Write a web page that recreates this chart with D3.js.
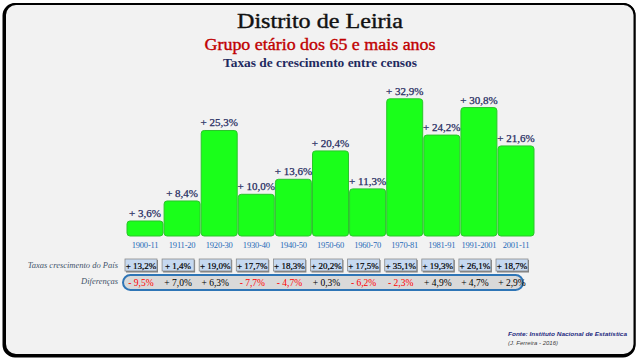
<!DOCTYPE html>
<html><head><meta charset="utf-8">
<script src="https://cdn.jsdelivr.net/npm/d3@7"></script>
<style>html,body{margin:0;padding:0;background:#fff;}svg{display:block;}</style>
</head><body>
<svg id="c" width="640" height="360"></svg>
<script>
const categories = ["1900-11","1911-20","1920-30","1930-40","1940-50","1950-60","1960-70","1970-81","1981-91","1991-2001","2001-11"];
const leiria = [3.6, 8.4, 25.3, 10.0, 13.6, 20.4, 11.3, 32.9, 24.2, 30.8, 21.6];
const pais = [13.2, 1.4, 19.0, 17.7, 18.3, 20.2, 17.5, 35.1, 19.3, 26.1, 18.7];
const diferencas = [-9.5, 7.0, 6.3, -7.7, -4.7, 0.3, -6.2, -2.3, 4.9, 4.7, 2.9];

const svg = d3.select("#c");
const serif = "'Liberation Serif','DejaVu Serif',serif";
const fmt = v => (v < 0 ? "- " : "+ ") + Math.abs(v).toFixed(1).replace(".", ",") + "%";

// frame
svg.append("rect").attr("x",4).attr("y",4.5).attr("width",630).attr("height",351.5).attr("rx",11)
  .attr("fill","none").attr("stroke","#000").attr("stroke-width",3);
svg.append("rect").attr("x",5).attr("y",4).attr("width",629.5).attr("height",351).attr("rx",11)
  .attr("fill","#f2f2f2").attr("stroke","#000").attr("stroke-width",2);

// titles
svg.append("text").attr("x",320).attr("y",27.5).attr("text-anchor","middle")
  .style("font-family",serif).style("font-size","21px").attr("fill","#111")
  .attr("stroke","#111").attr("stroke-width",0.4)
  .attr("textLength",166).attr("lengthAdjust","spacingAndGlyphs").text("Distrito de Leiria");
svg.append("text").attr("x",320).attr("y",50).attr("text-anchor","middle")
  .style("font-family",serif).style("font-size","16px").attr("fill","#c00000")
  .attr("stroke","#c00000").attr("stroke-width",0.35)
  .attr("textLength",231).attr("lengthAdjust","spacingAndGlyphs").text("Grupo etário dos 65 e mais anos");
svg.append("text").attr("x",320).attr("y",67).attr("text-anchor","middle")
  .style("font-family",serif).style("font-size","12.5px").style("font-weight","bold").attr("fill","#1f2a60")
  .attr("textLength",194).attr("lengthAdjust","spacingAndGlyphs").text("Taxas de crescimento entre censos");

const x = d3.scaleBand().domain(categories).range([127, 534]).paddingInner(0.03).paddingOuter(0);
const y = d3.scaleLinear().domain([0, 35]).range([236, 236 - 35*4.17]);

svg.append("g").selectAll("rect").data(leiria).join("rect")
  .attr("x",(d,i)=>x(categories[i])).attr("y",d=>y(d))
  .attr("width",x.bandwidth()).attr("height",d=>y(0)-y(d))
  .attr("rx",3).attr("fill","#1aff1a").attr("stroke","#2bc42b").attr("stroke-width",1);

svg.append("g").selectAll("text").data(leiria).join("text")
  .attr("x",(d,i)=>x(categories[i])+x.bandwidth()/2).attr("y",d=>y(d)-4)
  .attr("text-anchor","middle").style("font-family",serif).style("font-size","11px")
  .attr("fill","#1f2a60").attr("stroke","#1f2a60").attr("stroke-width",0.25).text(d=>fmt(d));

// category axis
const ax = svg.append("g").attr("transform","translate(0,240)")
  .call(d3.axisBottom(x).tickSize(0).tickPadding(2));
ax.select(".domain").remove();
ax.selectAll("text").style("font-family",serif).style("font-size","8.5px").attr("fill","#1f6ab8")
  .attr("letter-spacing","-0.2");

// row labels
svg.append("text").attr("x",118).attr("y",268).attr("text-anchor","end")
  .style("font-family",serif).style("font-size","8.5px").style("font-style","italic").attr("fill","#44546a")
  .text("Taxas crescimento do País");
svg.append("text").attr("x",118).attr("y",284).attr("text-anchor","end")
  .style("font-family",serif).style("font-size","8.5px").style("font-style","italic").attr("fill","#44546a")
  .text("Diferenças");

// country boxes
const cx = i => x(categories[i]) + x.bandwidth()/2 - 4;
const bw = 32;
const pg = svg.append("g");
pg.selectAll("rect.s").data(pais).join("rect").attr("class","s")
  .attr("x",(d,i)=>cx(i)-bw/2+1).attr("y",260).attr("width",bw).attr("height",12.5)
  .attr("fill","#7f7f7f");
pg.selectAll("rect.b").data(pais).join("rect").attr("class","b")
  .attr("x",(d,i)=>cx(i)-bw/2).attr("y",259).attr("width",bw).attr("height",12)
  .attr("fill","#c6d9f1").attr("stroke","#8c8c8c").attr("stroke-width",0.8);
pg.selectAll("text").data(pais).join("text")
  .attr("x",(d,i)=>cx(i)).attr("y",268.5).attr("text-anchor","middle")
  .style("font-family",serif).style("font-size","9px").attr("fill","#000")
  .attr("stroke","#000").attr("stroke-width",0.2)
  .text(d=>fmt(d));

// differences pill
svg.append("rect").attr("x",123).attr("y",275).attr("width",400).attr("height",15).attr("rx",7.5)
  .attr("fill","#d9d9d9").attr("stroke","#2e75b6").attr("stroke-width",2);
svg.append("g").selectAll("text").data(diferencas).join("text")
  .attr("x",(d,i)=>cx(i)).attr("y",286).attr("text-anchor","middle")
  .style("font-family",serif).style("font-size","9.5px")
  .attr("fill",d=>d<0?"#ff0000":"#000").text(d=>fmt(d));

// footer
svg.append("text").attr("x",508).attr("y",336)
  .style("font-family","'Liberation Sans',sans-serif").style("font-size","6px").style("font-weight","bold").style("font-style","italic")
  .attr("fill","#1f2a80").attr("textLength",119).attr("lengthAdjust","spacingAndGlyphs")
  .text("Fonte: Instituto Nacional de Estatística");
svg.append("text").attr("x",508).attr("y",345)
  .style("font-family","'Liberation Sans',sans-serif").style("font-size","6px").style("font-style","italic")
  .attr("fill","#404040").text("(J. Ferreira - 2016)");
</script>
</body></html>
